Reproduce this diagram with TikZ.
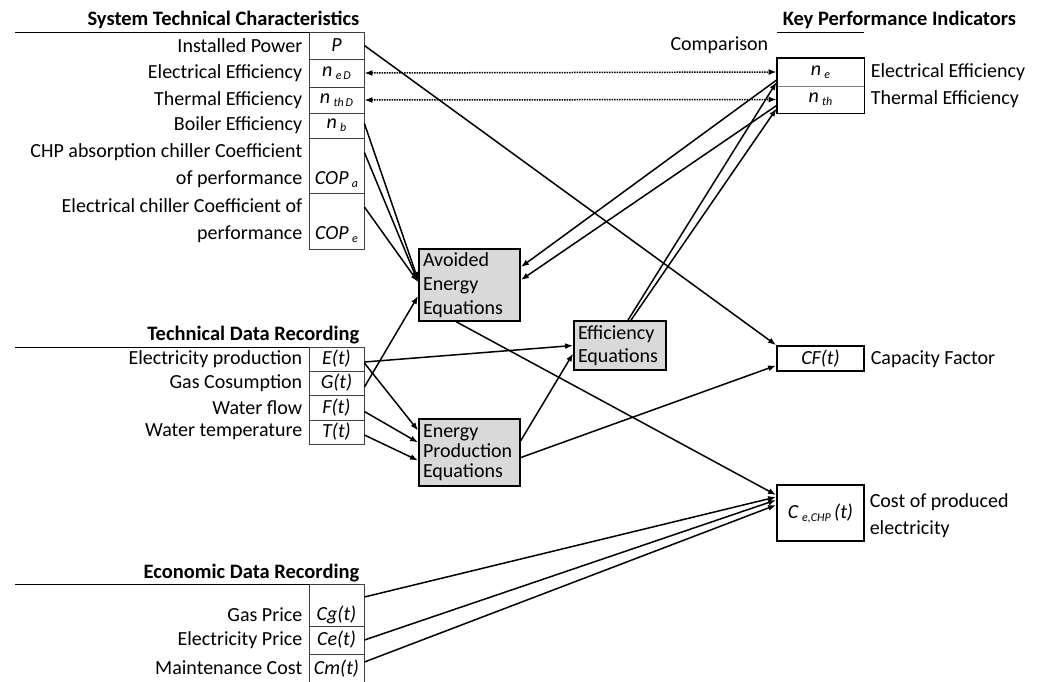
\documentclass[tikz,border=0pt]{standalone}
\usepackage{fontspec}
\setmainfont{Carlito}
\usepackage{tikz}
\usetikzlibrary{arrows.meta}
\definecolor{eqgray}{HTML}{D9D9D9}
\definecolor{cellline}{HTML}{404040}
\newcommand*{\var}[1]{\textit{#1}}
\newcommand*{\ix}[1]{\raisebox{-3pt}{\fontsize{12}{12}\selectfont\itshape #1}}

\begin{document}
\begin{tikzpicture}[x=1pt, y=-1pt, line width=1.5pt, >={Latex[length=8pt,width=6pt]},
    every node/.style={font=\fontsize{20}{27}\selectfont, inner sep=0pt},
    cell/.style={draw=cellline, line width=0.8pt, minimum width=55pt, align=center},
    lbl/.style={anchor=east, align=right},
    rlbl/.style={anchor=west, align=left},
    head/.style={font=\fontsize{20.5}{27}\selectfont\bfseries},
    eqbox/.style={draw, line width=1.8pt, fill=eqgray, align=left, minimum width=101pt, text width=93pt},
    kpi/.style={draw=gray, line width=0.8pt, minimum width=87pt, align=center},
    kpibox/.style={draw, line width=1.8pt, minimum width=87pt, align=center},
    rule/.style={line width=0.8pt}]
    \useasboundingbox (0,0) rectangle (1043,681);

    % System technical characteristics
    \node[head, anchor=east] (hsys) at (360, 20) {System Technical Characteristics};
    \draw[rule] (15, 32) -- (364, 32);
    \node[cell, minimum height=27pt] (p) at (336.5, 45.5) {\var{P}};
    \node[cell, minimum height=28pt] (ned) at (336.5, 73) {\var{n}\,\ix{e\,D}};
    \node[cell, minimum height=26pt] (nthd) at (336.5, 100) {\var{n}\,\ix{th\,D}};
    \node[cell, minimum height=25pt] (nb) at (336.5, 125.5) {\var{n}\,\ix{b}};
    \node[cell, minimum height=55pt, label={[name=copatxt, yshift=-14pt]center:\var{COP}\,\ix{a}}] (copa) at (336.5, 165.5) {};
    \node[cell, minimum height=56pt, label={[name=copetxt, yshift=-14pt]center:\var{COP}\,\ix{e}}] (cope) at (336.5, 221) {};
    \node[lbl] (lp) at (303, 45.5) {Installed Power};
    \node[lbl] (lned) at (303, 73) {Electrical Efficiency};
    \node[lbl] (lnthd) at (303, 100) {Thermal Efficiency};
    \node[lbl] (lnb) at (303, 125.5) {Boiler Efficiency};
    \node[lbl] (lcopa) at (303, 166) {CHP absorption chiller Coefficient\\of performance};
    \node[lbl] (lcope) at (303, 221) {Electrical chiller Coefficient of\\performance};

    % Technical data recording
    \node[head, anchor=east] (htech) at (360, 335) {Technical Data Recording};
    \draw[rule] (15, 347) -- (364, 347);
    \node[cell, minimum height=24pt] (e) at (336.5, 359) {\var{E(t)}};
    \node[cell, minimum height=24pt] (g) at (336.5, 383) {\var{G(t)}};
    \node[cell, minimum height=25pt] (f) at (336.5, 407.5) {\var{F(t)}};
    \node[cell, minimum height=24pt] (t) at (336.5, 432) {\var{T(t)}};
    \node[lbl] (le) at (303, 359) {Electricity production};
    \node[lbl] (lg) at (303, 383) {Gas Cosumption};
    \node[lbl] (lf) at (303, 407.5) {Water flow};
    \node[lbl] (lt) at (303, 432) {Water temperature};

    % Economic data recording
    \node[head, anchor=east] (heco) at (360, 573) {Economic Data Recording};
    \draw[rule] (15, 584) -- (364, 584);
    \node[cell, minimum height=42pt, label={[name=cgtxt, yshift=-10pt]center:\var{Cg(t)}}] (cg) at (336.5, 605) {};
    \node[cell, minimum height=28pt] (ce) at (336.5, 640) {\var{Ce(t)}};
    \node[cell, minimum height=30pt] (cm) at (336.5, 669) {\var{Cm(t)}};
    \node[lbl] (lcg) at (303, 615) {Gas Price};
    \node[lbl] (lce) at (303, 640) {Electricity Price};
    \node[lbl] (lcm) at (303, 668) {Maintenance Cost};

    % Equations
    \node[eqbox, minimum height=72pt, font=\fontsize{20}{24}\selectfont] (av) at (469.5, 285) {Avoided\\Energy\\Equations};
    \node[eqbox, minimum height=67pt, font=\fontsize{20}{20}\selectfont] (prod) at (469.5, 452.5) {Energy\\Production\\Equations};
    \node[eqbox, minimum width=92pt, text width=84pt, minimum height=49pt, font=\fontsize{20}{23}\selectfont] (eff) at (620, 345.5) {Efficiency\\Equations};

    % Key performance indicators
    \node[head, anchor=west] (hkpi) at (782, 20) {Key Performance Indicators};
    \draw[rule] (777, 32) -- (864, 32);
    \node[lbl] (lcomp) at (769, 45) {Comparison};
    \node[kpi, minimum height=28pt] (ne) at (820.5, 72) {\var{n}\,\ix{e}};
    \node[kpi, minimum height=27pt] (nth) at (820.5, 99.5) {\var{n}\,\ix{th}};
    \draw[line width=1.8pt] (ne.north west) rectangle (nth.south east);
    \node[rlbl] (lne) at (870, 72) {Electrical Efficiency};
    \node[rlbl] (lnth) at (870, 99) {Thermal Efficiency};
    \node[kpibox, minimum height=25pt] (cf) at (820.5, 358.5) {\var{CF(t)}};
    \node[rlbl] (lcf) at (870, 359) {Capacity Factor};
    \node[kpibox, minimum height=56pt] (c) at (820.5, 513) {\var{C}\,\ix{e,CHP}\,\var{(t)}};
    \node[rlbl] (lc) at (869, 516) {Cost of produced\\electricity};

    % Connectors
    \draw[->] (p.east) -- (cf.north west);
    \draw[<->, densely dotted] (ned.east) -- (ne.west);
    \draw[<->, densely dotted] (nthd.east) -- (nth.west);
    \draw[->] ([yshift=2pt]nb.east) -- ([yshift=5pt]av.west);
    \draw[->] ([yshift=13pt]copa.east) -- ([yshift=3pt]av.west);
    \draw[->] ([yshift=14pt]cope.east) -- ([yshift=3pt]av.west);
    \draw[->] ([yshift=-4pt]g.east) -- ([yshift=-11pt]av.west);
    \draw[->] ([yshift=-3pt]e.east) -- (eff.west);
    \draw[->] ([yshift=-4pt]e.east) -- ([yshift=22pt]prod.west);
    \draw[->] ([yshift=-4pt]f.east) -- ([yshift=10pt]prod.west);
    \draw[->] ([yshift=-3pt]t.east) -- ([yshift=-8pt]prod.west);
    \draw[->] ([yshift=12pt]prod.east) -- ([yshift=-8pt]eff.west);
    \draw[->] ([yshift=-5pt]prod.east) -- ([yshift=-7pt]cf.west);
    \draw[->] ([xshift=-13pt]av.south) -- ([yshift=18pt]c.west);
    \draw[->] ([yshift=8pt]cg.east) -- ([yshift=16pt]c.west);
    \draw[->] (ce.east) -- ([yshift=13pt]c.west);
    \draw[->] ([yshift=7pt]cm.east) -- ([yshift=8pt]c.west);
    \draw[->] ([yshift=-8pt]ne.west) -- ([yshift=18pt]av.east);
    \draw[->] ([yshift=-6pt]nth.west) -- ([yshift=5pt]av.east);
    \draw[->] ([xshift=8pt]eff.north) -- ([yshift=-10pt]ne.west);
    \draw[->] ([xshift=11pt]eff.north) -- ([yshift=-9pt]nth.west);
\end{tikzpicture}
\end{document}
